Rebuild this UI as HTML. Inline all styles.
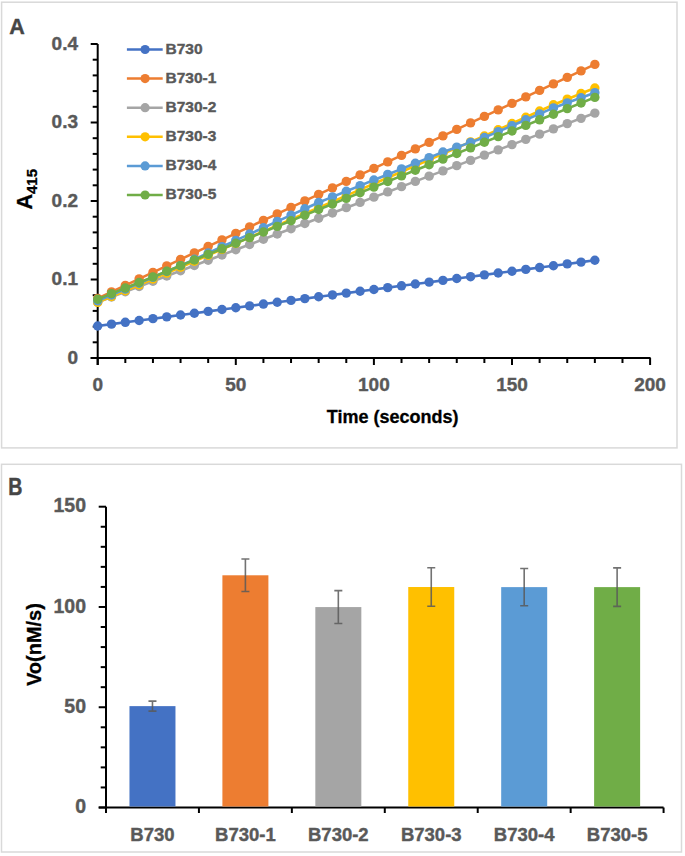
<!DOCTYPE html>
<html><head><meta charset="utf-8"><style>
html,body{margin:0;padding:0;background:#fff;width:685px;height:856px;overflow:hidden;}
svg{display:block;}
</style></head><body>
<svg width="685" height="856" viewBox="0 0 685 856">
<rect width="685" height="856" fill="#fff"/>
<rect x="1.6" y="2.2" width="675.4" height="445.7" fill="#fff" stroke="#d9d9d9" stroke-width="1.5"/>
<rect x="1.5" y="464.3" width="680" height="387.7" fill="#fff" stroke="#d9d9d9" stroke-width="1.5"/>
<text x="9.2" y="33.9" font-family="Liberation Sans, sans-serif" font-weight="bold" font-size="21.5" fill="#454545" stroke="#454545" stroke-width="0.4">A</text>
<text transform="translate(8.2,494.6) scale(0.8,1)" font-family="Liberation Sans, sans-serif" font-weight="bold" font-size="24.5" fill="#454545" stroke="#454545" stroke-width="0.5">B</text>
<line x1="97.7" y1="44.0" x2="97.7" y2="365.0" stroke="#000" stroke-width="2"/>
<line x1="90.7" y1="358.0" x2="650.6" y2="358.0" stroke="#000" stroke-width="2"/>
<line x1="90.7" y1="358.00" x2="97.7" y2="358.00" stroke="#000" stroke-width="2"/>
<line x1="92.7" y1="342.30" x2="97.7" y2="342.30" stroke="#000" stroke-width="2"/>
<line x1="92.7" y1="326.60" x2="97.7" y2="326.60" stroke="#000" stroke-width="2"/>
<line x1="92.7" y1="310.90" x2="97.7" y2="310.90" stroke="#000" stroke-width="2"/>
<line x1="92.7" y1="295.20" x2="97.7" y2="295.20" stroke="#000" stroke-width="2"/>
<line x1="90.7" y1="279.50" x2="97.7" y2="279.50" stroke="#000" stroke-width="2"/>
<line x1="92.7" y1="263.80" x2="97.7" y2="263.80" stroke="#000" stroke-width="2"/>
<line x1="92.7" y1="248.10" x2="97.7" y2="248.10" stroke="#000" stroke-width="2"/>
<line x1="92.7" y1="232.40" x2="97.7" y2="232.40" stroke="#000" stroke-width="2"/>
<line x1="92.7" y1="216.70" x2="97.7" y2="216.70" stroke="#000" stroke-width="2"/>
<line x1="90.7" y1="201.00" x2="97.7" y2="201.00" stroke="#000" stroke-width="2"/>
<line x1="92.7" y1="185.30" x2="97.7" y2="185.30" stroke="#000" stroke-width="2"/>
<line x1="92.7" y1="169.60" x2="97.7" y2="169.60" stroke="#000" stroke-width="2"/>
<line x1="92.7" y1="153.90" x2="97.7" y2="153.90" stroke="#000" stroke-width="2"/>
<line x1="92.7" y1="138.20" x2="97.7" y2="138.20" stroke="#000" stroke-width="2"/>
<line x1="90.7" y1="122.50" x2="97.7" y2="122.50" stroke="#000" stroke-width="2"/>
<line x1="92.7" y1="106.80" x2="97.7" y2="106.80" stroke="#000" stroke-width="2"/>
<line x1="92.7" y1="91.10" x2="97.7" y2="91.10" stroke="#000" stroke-width="2"/>
<line x1="92.7" y1="75.40" x2="97.7" y2="75.40" stroke="#000" stroke-width="2"/>
<line x1="92.7" y1="59.70" x2="97.7" y2="59.70" stroke="#000" stroke-width="2"/>
<line x1="90.7" y1="44.00" x2="97.7" y2="44.00" stroke="#000" stroke-width="2"/>
<line x1="97.70" y1="358.0" x2="97.70" y2="365.0" stroke="#000" stroke-width="2"/>
<line x1="125.32" y1="358.0" x2="125.32" y2="363.0" stroke="#000" stroke-width="2"/>
<line x1="152.94" y1="358.0" x2="152.94" y2="363.0" stroke="#000" stroke-width="2"/>
<line x1="180.56" y1="358.0" x2="180.56" y2="363.0" stroke="#000" stroke-width="2"/>
<line x1="208.18" y1="358.0" x2="208.18" y2="363.0" stroke="#000" stroke-width="2"/>
<line x1="235.80" y1="358.0" x2="235.80" y2="365.0" stroke="#000" stroke-width="2"/>
<line x1="263.42" y1="358.0" x2="263.42" y2="363.0" stroke="#000" stroke-width="2"/>
<line x1="291.04" y1="358.0" x2="291.04" y2="363.0" stroke="#000" stroke-width="2"/>
<line x1="318.66" y1="358.0" x2="318.66" y2="363.0" stroke="#000" stroke-width="2"/>
<line x1="346.28" y1="358.0" x2="346.28" y2="363.0" stroke="#000" stroke-width="2"/>
<line x1="373.90" y1="358.0" x2="373.90" y2="365.0" stroke="#000" stroke-width="2"/>
<line x1="401.52" y1="358.0" x2="401.52" y2="363.0" stroke="#000" stroke-width="2"/>
<line x1="429.14" y1="358.0" x2="429.14" y2="363.0" stroke="#000" stroke-width="2"/>
<line x1="456.76" y1="358.0" x2="456.76" y2="363.0" stroke="#000" stroke-width="2"/>
<line x1="484.38" y1="358.0" x2="484.38" y2="363.0" stroke="#000" stroke-width="2"/>
<line x1="512.00" y1="358.0" x2="512.00" y2="365.0" stroke="#000" stroke-width="2"/>
<line x1="539.62" y1="358.0" x2="539.62" y2="363.0" stroke="#000" stroke-width="2"/>
<line x1="567.24" y1="358.0" x2="567.24" y2="363.0" stroke="#000" stroke-width="2"/>
<line x1="594.86" y1="358.0" x2="594.86" y2="363.0" stroke="#000" stroke-width="2"/>
<line x1="622.48" y1="358.0" x2="622.48" y2="363.0" stroke="#000" stroke-width="2"/>
<line x1="650.10" y1="358.0" x2="650.10" y2="365.0" stroke="#000" stroke-width="2"/>
<text x="78" y="363.90" text-anchor="end" font-family="Liberation Sans, sans-serif" font-weight="bold" font-size="19" fill="#595959" stroke="#595959" stroke-width="0.4">0</text>
<text x="78" y="285.40" text-anchor="end" font-family="Liberation Sans, sans-serif" font-weight="bold" font-size="19" fill="#595959" stroke="#595959" stroke-width="0.4">0.1</text>
<text x="78" y="206.90" text-anchor="end" font-family="Liberation Sans, sans-serif" font-weight="bold" font-size="19" fill="#595959" stroke="#595959" stroke-width="0.4">0.2</text>
<text x="78" y="128.40" text-anchor="end" font-family="Liberation Sans, sans-serif" font-weight="bold" font-size="19" fill="#595959" stroke="#595959" stroke-width="0.4">0.3</text>
<text x="78" y="49.90" text-anchor="end" font-family="Liberation Sans, sans-serif" font-weight="bold" font-size="19" fill="#595959" stroke="#595959" stroke-width="0.4">0.4</text>
<text x="97.70" y="391.3" text-anchor="middle" font-family="Liberation Sans, sans-serif" font-weight="bold" font-size="19" fill="#595959" stroke="#595959" stroke-width="0.4">0</text>
<text x="235.80" y="391.3" text-anchor="middle" font-family="Liberation Sans, sans-serif" font-weight="bold" font-size="19" fill="#595959" stroke="#595959" stroke-width="0.4">50</text>
<text x="373.90" y="391.3" text-anchor="middle" font-family="Liberation Sans, sans-serif" font-weight="bold" font-size="19" fill="#595959" stroke="#595959" stroke-width="0.4">100</text>
<text x="512.00" y="391.3" text-anchor="middle" font-family="Liberation Sans, sans-serif" font-weight="bold" font-size="19" fill="#595959" stroke="#595959" stroke-width="0.4">150</text>
<text x="650.10" y="391.3" text-anchor="middle" font-family="Liberation Sans, sans-serif" font-weight="bold" font-size="19" fill="#595959" stroke="#595959" stroke-width="0.4">200</text>
<text x="392.6" y="423.4" text-anchor="middle" font-family="Liberation Sans, sans-serif" font-weight="bold" font-size="18" fill="#000" stroke="#000" stroke-width="0.3">Time (seconds)</text>
<text transform="translate(31.6,209.5) rotate(-90)" font-family="Liberation Sans, sans-serif" font-weight="bold" font-size="21.5" fill="#000" stroke="#000" stroke-width="0.3">A<tspan font-size="15" dy="5">415</tspan></text>
<polyline points="97.70,325.97 111.51,324.15 125.32,322.32 139.13,320.50 152.94,318.67 166.75,316.85 180.56,315.02 194.37,313.20 208.18,311.37 221.99,309.55 235.80,307.72 249.61,305.90 263.42,304.07 277.23,302.25 291.04,300.42 304.85,298.60 318.66,296.77 332.47,294.94 346.28,293.12 360.09,291.29 373.90,289.47 387.71,287.64 401.52,285.82 415.33,283.99 429.14,282.17 442.95,280.34 456.76,278.52 470.57,276.69 484.38,274.87 498.19,273.04 512.00,271.22 525.81,269.39 539.62,267.57 553.43,265.74 567.24,263.92 581.05,262.09 594.86,260.27" fill="none" stroke="#4472C4" stroke-width="2.6" stroke-linejoin="round"/>
<circle cx="97.70" cy="325.97" r="4.7" fill="#4472C4"/>
<circle cx="111.51" cy="324.15" r="4.7" fill="#4472C4"/>
<circle cx="125.32" cy="322.32" r="4.7" fill="#4472C4"/>
<circle cx="139.13" cy="320.50" r="4.7" fill="#4472C4"/>
<circle cx="152.94" cy="318.67" r="4.7" fill="#4472C4"/>
<circle cx="166.75" cy="316.85" r="4.7" fill="#4472C4"/>
<circle cx="180.56" cy="315.02" r="4.7" fill="#4472C4"/>
<circle cx="194.37" cy="313.20" r="4.7" fill="#4472C4"/>
<circle cx="208.18" cy="311.37" r="4.7" fill="#4472C4"/>
<circle cx="221.99" cy="309.55" r="4.7" fill="#4472C4"/>
<circle cx="235.80" cy="307.72" r="4.7" fill="#4472C4"/>
<circle cx="249.61" cy="305.90" r="4.7" fill="#4472C4"/>
<circle cx="263.42" cy="304.07" r="4.7" fill="#4472C4"/>
<circle cx="277.23" cy="302.25" r="4.7" fill="#4472C4"/>
<circle cx="291.04" cy="300.42" r="4.7" fill="#4472C4"/>
<circle cx="304.85" cy="298.60" r="4.7" fill="#4472C4"/>
<circle cx="318.66" cy="296.77" r="4.7" fill="#4472C4"/>
<circle cx="332.47" cy="294.94" r="4.7" fill="#4472C4"/>
<circle cx="346.28" cy="293.12" r="4.7" fill="#4472C4"/>
<circle cx="360.09" cy="291.29" r="4.7" fill="#4472C4"/>
<circle cx="373.90" cy="289.47" r="4.7" fill="#4472C4"/>
<circle cx="387.71" cy="287.64" r="4.7" fill="#4472C4"/>
<circle cx="401.52" cy="285.82" r="4.7" fill="#4472C4"/>
<circle cx="415.33" cy="283.99" r="4.7" fill="#4472C4"/>
<circle cx="429.14" cy="282.17" r="4.7" fill="#4472C4"/>
<circle cx="442.95" cy="280.34" r="4.7" fill="#4472C4"/>
<circle cx="456.76" cy="278.52" r="4.7" fill="#4472C4"/>
<circle cx="470.57" cy="276.69" r="4.7" fill="#4472C4"/>
<circle cx="484.38" cy="274.87" r="4.7" fill="#4472C4"/>
<circle cx="498.19" cy="273.04" r="4.7" fill="#4472C4"/>
<circle cx="512.00" cy="271.22" r="4.7" fill="#4472C4"/>
<circle cx="525.81" cy="269.39" r="4.7" fill="#4472C4"/>
<circle cx="539.62" cy="267.57" r="4.7" fill="#4472C4"/>
<circle cx="553.43" cy="265.74" r="4.7" fill="#4472C4"/>
<circle cx="567.24" cy="263.92" r="4.7" fill="#4472C4"/>
<circle cx="581.05" cy="262.09" r="4.7" fill="#4472C4"/>
<circle cx="594.86" cy="260.27" r="4.7" fill="#4472C4"/>
<polyline points="97.70,298.34 111.51,291.84 125.32,285.34 139.13,278.85 152.94,272.35 166.75,265.85 180.56,259.35 194.37,252.85 208.18,246.36 221.99,239.86 235.80,233.36 249.61,226.86 263.42,220.36 277.23,213.87 291.04,207.37 304.85,200.87 318.66,194.37 332.47,187.87 346.28,181.38 360.09,174.88 373.90,168.38 387.71,161.88 401.52,155.38 415.33,148.88 429.14,142.39 442.95,135.89 456.76,129.39 470.57,122.89 484.38,116.39 498.19,109.90 512.00,103.40 525.81,96.90 539.62,90.40 553.43,83.90 567.24,77.41 581.05,70.91 594.86,64.41" fill="none" stroke="#ED7D31" stroke-width="2.6" stroke-linejoin="round"/>
<circle cx="97.70" cy="298.34" r="4.7" fill="#ED7D31"/>
<circle cx="111.51" cy="291.84" r="4.7" fill="#ED7D31"/>
<circle cx="125.32" cy="285.34" r="4.7" fill="#ED7D31"/>
<circle cx="139.13" cy="278.85" r="4.7" fill="#ED7D31"/>
<circle cx="152.94" cy="272.35" r="4.7" fill="#ED7D31"/>
<circle cx="166.75" cy="265.85" r="4.7" fill="#ED7D31"/>
<circle cx="180.56" cy="259.35" r="4.7" fill="#ED7D31"/>
<circle cx="194.37" cy="252.85" r="4.7" fill="#ED7D31"/>
<circle cx="208.18" cy="246.36" r="4.7" fill="#ED7D31"/>
<circle cx="221.99" cy="239.86" r="4.7" fill="#ED7D31"/>
<circle cx="235.80" cy="233.36" r="4.7" fill="#ED7D31"/>
<circle cx="249.61" cy="226.86" r="4.7" fill="#ED7D31"/>
<circle cx="263.42" cy="220.36" r="4.7" fill="#ED7D31"/>
<circle cx="277.23" cy="213.87" r="4.7" fill="#ED7D31"/>
<circle cx="291.04" cy="207.37" r="4.7" fill="#ED7D31"/>
<circle cx="304.85" cy="200.87" r="4.7" fill="#ED7D31"/>
<circle cx="318.66" cy="194.37" r="4.7" fill="#ED7D31"/>
<circle cx="332.47" cy="187.87" r="4.7" fill="#ED7D31"/>
<circle cx="346.28" cy="181.38" r="4.7" fill="#ED7D31"/>
<circle cx="360.09" cy="174.88" r="4.7" fill="#ED7D31"/>
<circle cx="373.90" cy="168.38" r="4.7" fill="#ED7D31"/>
<circle cx="387.71" cy="161.88" r="4.7" fill="#ED7D31"/>
<circle cx="401.52" cy="155.38" r="4.7" fill="#ED7D31"/>
<circle cx="415.33" cy="148.88" r="4.7" fill="#ED7D31"/>
<circle cx="429.14" cy="142.39" r="4.7" fill="#ED7D31"/>
<circle cx="442.95" cy="135.89" r="4.7" fill="#ED7D31"/>
<circle cx="456.76" cy="129.39" r="4.7" fill="#ED7D31"/>
<circle cx="470.57" cy="122.89" r="4.7" fill="#ED7D31"/>
<circle cx="484.38" cy="116.39" r="4.7" fill="#ED7D31"/>
<circle cx="498.19" cy="109.90" r="4.7" fill="#ED7D31"/>
<circle cx="512.00" cy="103.40" r="4.7" fill="#ED7D31"/>
<circle cx="525.81" cy="96.90" r="4.7" fill="#ED7D31"/>
<circle cx="539.62" cy="90.40" r="4.7" fill="#ED7D31"/>
<circle cx="553.43" cy="83.90" r="4.7" fill="#ED7D31"/>
<circle cx="567.24" cy="77.41" r="4.7" fill="#ED7D31"/>
<circle cx="581.05" cy="70.91" r="4.7" fill="#ED7D31"/>
<circle cx="594.86" cy="64.41" r="4.7" fill="#ED7D31"/>
<polyline points="97.70,302.26 111.51,297.01 125.32,291.75 139.13,286.50 152.94,281.24 166.75,275.99 180.56,270.73 194.37,265.48 208.18,260.22 221.99,254.97 235.80,249.71 249.61,244.46 263.42,239.20 277.23,233.95 291.04,228.69 304.85,223.44 318.66,218.18 332.47,212.93 346.28,207.67 360.09,202.42 373.90,197.16 387.71,191.91 401.52,186.65 415.33,181.40 429.14,176.14 442.95,170.89 456.76,165.63 470.57,160.38 484.38,155.12 498.19,149.87 512.00,144.61 525.81,139.36 539.62,134.10 553.43,128.85 567.24,123.59 581.05,118.34 594.86,113.08" fill="none" stroke="#A5A5A5" stroke-width="2.6" stroke-linejoin="round"/>
<circle cx="97.70" cy="302.26" r="4.7" fill="#A5A5A5"/>
<circle cx="111.51" cy="297.01" r="4.7" fill="#A5A5A5"/>
<circle cx="125.32" cy="291.75" r="4.7" fill="#A5A5A5"/>
<circle cx="139.13" cy="286.50" r="4.7" fill="#A5A5A5"/>
<circle cx="152.94" cy="281.24" r="4.7" fill="#A5A5A5"/>
<circle cx="166.75" cy="275.99" r="4.7" fill="#A5A5A5"/>
<circle cx="180.56" cy="270.73" r="4.7" fill="#A5A5A5"/>
<circle cx="194.37" cy="265.48" r="4.7" fill="#A5A5A5"/>
<circle cx="208.18" cy="260.22" r="4.7" fill="#A5A5A5"/>
<circle cx="221.99" cy="254.97" r="4.7" fill="#A5A5A5"/>
<circle cx="235.80" cy="249.71" r="4.7" fill="#A5A5A5"/>
<circle cx="249.61" cy="244.46" r="4.7" fill="#A5A5A5"/>
<circle cx="263.42" cy="239.20" r="4.7" fill="#A5A5A5"/>
<circle cx="277.23" cy="233.95" r="4.7" fill="#A5A5A5"/>
<circle cx="291.04" cy="228.69" r="4.7" fill="#A5A5A5"/>
<circle cx="304.85" cy="223.44" r="4.7" fill="#A5A5A5"/>
<circle cx="318.66" cy="218.18" r="4.7" fill="#A5A5A5"/>
<circle cx="332.47" cy="212.93" r="4.7" fill="#A5A5A5"/>
<circle cx="346.28" cy="207.67" r="4.7" fill="#A5A5A5"/>
<circle cx="360.09" cy="202.42" r="4.7" fill="#A5A5A5"/>
<circle cx="373.90" cy="197.16" r="4.7" fill="#A5A5A5"/>
<circle cx="387.71" cy="191.91" r="4.7" fill="#A5A5A5"/>
<circle cx="401.52" cy="186.65" r="4.7" fill="#A5A5A5"/>
<circle cx="415.33" cy="181.40" r="4.7" fill="#A5A5A5"/>
<circle cx="429.14" cy="176.14" r="4.7" fill="#A5A5A5"/>
<circle cx="442.95" cy="170.89" r="4.7" fill="#A5A5A5"/>
<circle cx="456.76" cy="165.63" r="4.7" fill="#A5A5A5"/>
<circle cx="470.57" cy="160.38" r="4.7" fill="#A5A5A5"/>
<circle cx="484.38" cy="155.12" r="4.7" fill="#A5A5A5"/>
<circle cx="498.19" cy="149.87" r="4.7" fill="#A5A5A5"/>
<circle cx="512.00" cy="144.61" r="4.7" fill="#A5A5A5"/>
<circle cx="525.81" cy="139.36" r="4.7" fill="#A5A5A5"/>
<circle cx="539.62" cy="134.10" r="4.7" fill="#A5A5A5"/>
<circle cx="553.43" cy="128.85" r="4.7" fill="#A5A5A5"/>
<circle cx="567.24" cy="123.59" r="4.7" fill="#A5A5A5"/>
<circle cx="581.05" cy="118.34" r="4.7" fill="#A5A5A5"/>
<circle cx="594.86" cy="113.08" r="4.7" fill="#A5A5A5"/>
<polyline points="97.70,302.42 111.51,296.55 125.32,290.68 139.13,284.81 152.94,278.94 166.75,273.07 180.56,267.20 194.37,261.24 208.18,255.28 221.99,249.32 235.80,243.36 249.61,237.39 263.42,231.43 277.23,225.47 291.04,219.51 304.85,213.55 318.66,207.59 332.47,201.62 346.28,195.65 360.09,189.68 373.90,183.71 387.71,177.74 401.52,171.78 415.33,165.81 429.14,159.84 442.95,153.87 456.76,147.90 470.57,141.94 484.38,135.97 498.19,129.73 512.00,123.49 525.81,117.26 539.62,111.02 553.43,104.79 567.24,99.18 581.05,93.57 594.86,87.96" fill="none" stroke="#FFC000" stroke-width="2.6" stroke-linejoin="round"/>
<circle cx="97.70" cy="302.42" r="4.7" fill="#FFC000"/>
<circle cx="111.51" cy="296.55" r="4.7" fill="#FFC000"/>
<circle cx="125.32" cy="290.68" r="4.7" fill="#FFC000"/>
<circle cx="139.13" cy="284.81" r="4.7" fill="#FFC000"/>
<circle cx="152.94" cy="278.94" r="4.7" fill="#FFC000"/>
<circle cx="166.75" cy="273.07" r="4.7" fill="#FFC000"/>
<circle cx="180.56" cy="267.20" r="4.7" fill="#FFC000"/>
<circle cx="194.37" cy="261.24" r="4.7" fill="#FFC000"/>
<circle cx="208.18" cy="255.28" r="4.7" fill="#FFC000"/>
<circle cx="221.99" cy="249.32" r="4.7" fill="#FFC000"/>
<circle cx="235.80" cy="243.36" r="4.7" fill="#FFC000"/>
<circle cx="249.61" cy="237.39" r="4.7" fill="#FFC000"/>
<circle cx="263.42" cy="231.43" r="4.7" fill="#FFC000"/>
<circle cx="277.23" cy="225.47" r="4.7" fill="#FFC000"/>
<circle cx="291.04" cy="219.51" r="4.7" fill="#FFC000"/>
<circle cx="304.85" cy="213.55" r="4.7" fill="#FFC000"/>
<circle cx="318.66" cy="207.59" r="4.7" fill="#FFC000"/>
<circle cx="332.47" cy="201.62" r="4.7" fill="#FFC000"/>
<circle cx="346.28" cy="195.65" r="4.7" fill="#FFC000"/>
<circle cx="360.09" cy="189.68" r="4.7" fill="#FFC000"/>
<circle cx="373.90" cy="183.71" r="4.7" fill="#FFC000"/>
<circle cx="387.71" cy="177.74" r="4.7" fill="#FFC000"/>
<circle cx="401.52" cy="171.78" r="4.7" fill="#FFC000"/>
<circle cx="415.33" cy="165.81" r="4.7" fill="#FFC000"/>
<circle cx="429.14" cy="159.84" r="4.7" fill="#FFC000"/>
<circle cx="442.95" cy="153.87" r="4.7" fill="#FFC000"/>
<circle cx="456.76" cy="147.90" r="4.7" fill="#FFC000"/>
<circle cx="470.57" cy="141.94" r="4.7" fill="#FFC000"/>
<circle cx="484.38" cy="135.97" r="4.7" fill="#FFC000"/>
<circle cx="498.19" cy="129.73" r="4.7" fill="#FFC000"/>
<circle cx="512.00" cy="123.49" r="4.7" fill="#FFC000"/>
<circle cx="525.81" cy="117.26" r="4.7" fill="#FFC000"/>
<circle cx="539.62" cy="111.02" r="4.7" fill="#FFC000"/>
<circle cx="553.43" cy="104.79" r="4.7" fill="#FFC000"/>
<circle cx="567.24" cy="99.18" r="4.7" fill="#FFC000"/>
<circle cx="581.05" cy="93.57" r="4.7" fill="#FFC000"/>
<circle cx="594.86" cy="87.96" r="4.7" fill="#FFC000"/>
<polyline points="97.70,300.85 111.51,294.98 125.32,289.11 139.13,283.24 152.94,277.37 166.75,271.50 180.56,265.63 194.37,259.32 208.18,253.00 221.99,246.69 235.80,240.37 249.61,234.06 263.42,227.74 277.23,221.43 291.04,215.11 304.85,208.80 318.66,202.48 332.47,196.87 346.28,191.27 360.09,185.66 373.90,180.05 387.71,174.44 401.52,168.83 415.33,163.22 429.14,157.62 442.95,152.01 456.76,147.18 470.57,142.36 484.38,137.54 498.19,131.61 512.00,125.69 525.81,119.77 539.62,113.85 553.43,107.93 567.24,102.84 581.05,97.76 594.86,92.67" fill="none" stroke="#5B9BD5" stroke-width="2.6" stroke-linejoin="round"/>
<circle cx="97.70" cy="300.85" r="4.7" fill="#5B9BD5"/>
<circle cx="111.51" cy="294.98" r="4.7" fill="#5B9BD5"/>
<circle cx="125.32" cy="289.11" r="4.7" fill="#5B9BD5"/>
<circle cx="139.13" cy="283.24" r="4.7" fill="#5B9BD5"/>
<circle cx="152.94" cy="277.37" r="4.7" fill="#5B9BD5"/>
<circle cx="166.75" cy="271.50" r="4.7" fill="#5B9BD5"/>
<circle cx="180.56" cy="265.63" r="4.7" fill="#5B9BD5"/>
<circle cx="194.37" cy="259.32" r="4.7" fill="#5B9BD5"/>
<circle cx="208.18" cy="253.00" r="4.7" fill="#5B9BD5"/>
<circle cx="221.99" cy="246.69" r="4.7" fill="#5B9BD5"/>
<circle cx="235.80" cy="240.37" r="4.7" fill="#5B9BD5"/>
<circle cx="249.61" cy="234.06" r="4.7" fill="#5B9BD5"/>
<circle cx="263.42" cy="227.74" r="4.7" fill="#5B9BD5"/>
<circle cx="277.23" cy="221.43" r="4.7" fill="#5B9BD5"/>
<circle cx="291.04" cy="215.11" r="4.7" fill="#5B9BD5"/>
<circle cx="304.85" cy="208.80" r="4.7" fill="#5B9BD5"/>
<circle cx="318.66" cy="202.48" r="4.7" fill="#5B9BD5"/>
<circle cx="332.47" cy="196.87" r="4.7" fill="#5B9BD5"/>
<circle cx="346.28" cy="191.27" r="4.7" fill="#5B9BD5"/>
<circle cx="360.09" cy="185.66" r="4.7" fill="#5B9BD5"/>
<circle cx="373.90" cy="180.05" r="4.7" fill="#5B9BD5"/>
<circle cx="387.71" cy="174.44" r="4.7" fill="#5B9BD5"/>
<circle cx="401.52" cy="168.83" r="4.7" fill="#5B9BD5"/>
<circle cx="415.33" cy="163.22" r="4.7" fill="#5B9BD5"/>
<circle cx="429.14" cy="157.62" r="4.7" fill="#5B9BD5"/>
<circle cx="442.95" cy="152.01" r="4.7" fill="#5B9BD5"/>
<circle cx="456.76" cy="147.18" r="4.7" fill="#5B9BD5"/>
<circle cx="470.57" cy="142.36" r="4.7" fill="#5B9BD5"/>
<circle cx="484.38" cy="137.54" r="4.7" fill="#5B9BD5"/>
<circle cx="498.19" cy="131.61" r="4.7" fill="#5B9BD5"/>
<circle cx="512.00" cy="125.69" r="4.7" fill="#5B9BD5"/>
<circle cx="525.81" cy="119.77" r="4.7" fill="#5B9BD5"/>
<circle cx="539.62" cy="113.85" r="4.7" fill="#5B9BD5"/>
<circle cx="553.43" cy="107.93" r="4.7" fill="#5B9BD5"/>
<circle cx="567.24" cy="102.84" r="4.7" fill="#5B9BD5"/>
<circle cx="581.05" cy="97.76" r="4.7" fill="#5B9BD5"/>
<circle cx="594.86" cy="92.67" r="4.7" fill="#5B9BD5"/>
<polyline points="97.70,299.28 111.51,293.67 125.32,288.07 139.13,282.46 152.94,276.85 166.75,271.24 180.56,265.63 194.37,260.02 208.18,254.41 221.99,248.81 235.80,243.20 249.61,237.59 263.42,231.98 277.23,226.37 291.04,220.76 304.85,215.16 318.66,209.55 332.47,203.94 346.28,198.33 360.09,192.72 373.90,187.11 387.71,181.51 401.52,175.90 415.33,170.29 429.14,164.68 442.95,159.07 456.76,153.46 470.57,147.86 484.38,142.25 498.19,136.64 512.00,131.03 525.81,125.42 539.62,119.81 553.43,114.21 567.24,108.60 581.05,102.99 594.86,97.38" fill="none" stroke="#70AD47" stroke-width="2.6" stroke-linejoin="round"/>
<circle cx="97.70" cy="299.28" r="4.7" fill="#70AD47"/>
<circle cx="111.51" cy="293.67" r="4.7" fill="#70AD47"/>
<circle cx="125.32" cy="288.07" r="4.7" fill="#70AD47"/>
<circle cx="139.13" cy="282.46" r="4.7" fill="#70AD47"/>
<circle cx="152.94" cy="276.85" r="4.7" fill="#70AD47"/>
<circle cx="166.75" cy="271.24" r="4.7" fill="#70AD47"/>
<circle cx="180.56" cy="265.63" r="4.7" fill="#70AD47"/>
<circle cx="194.37" cy="260.02" r="4.7" fill="#70AD47"/>
<circle cx="208.18" cy="254.41" r="4.7" fill="#70AD47"/>
<circle cx="221.99" cy="248.81" r="4.7" fill="#70AD47"/>
<circle cx="235.80" cy="243.20" r="4.7" fill="#70AD47"/>
<circle cx="249.61" cy="237.59" r="4.7" fill="#70AD47"/>
<circle cx="263.42" cy="231.98" r="4.7" fill="#70AD47"/>
<circle cx="277.23" cy="226.37" r="4.7" fill="#70AD47"/>
<circle cx="291.04" cy="220.76" r="4.7" fill="#70AD47"/>
<circle cx="304.85" cy="215.16" r="4.7" fill="#70AD47"/>
<circle cx="318.66" cy="209.55" r="4.7" fill="#70AD47"/>
<circle cx="332.47" cy="203.94" r="4.7" fill="#70AD47"/>
<circle cx="346.28" cy="198.33" r="4.7" fill="#70AD47"/>
<circle cx="360.09" cy="192.72" r="4.7" fill="#70AD47"/>
<circle cx="373.90" cy="187.11" r="4.7" fill="#70AD47"/>
<circle cx="387.71" cy="181.51" r="4.7" fill="#70AD47"/>
<circle cx="401.52" cy="175.90" r="4.7" fill="#70AD47"/>
<circle cx="415.33" cy="170.29" r="4.7" fill="#70AD47"/>
<circle cx="429.14" cy="164.68" r="4.7" fill="#70AD47"/>
<circle cx="442.95" cy="159.07" r="4.7" fill="#70AD47"/>
<circle cx="456.76" cy="153.46" r="4.7" fill="#70AD47"/>
<circle cx="470.57" cy="147.86" r="4.7" fill="#70AD47"/>
<circle cx="484.38" cy="142.25" r="4.7" fill="#70AD47"/>
<circle cx="498.19" cy="136.64" r="4.7" fill="#70AD47"/>
<circle cx="512.00" cy="131.03" r="4.7" fill="#70AD47"/>
<circle cx="525.81" cy="125.42" r="4.7" fill="#70AD47"/>
<circle cx="539.62" cy="119.81" r="4.7" fill="#70AD47"/>
<circle cx="553.43" cy="114.21" r="4.7" fill="#70AD47"/>
<circle cx="567.24" cy="108.60" r="4.7" fill="#70AD47"/>
<circle cx="581.05" cy="102.99" r="4.7" fill="#70AD47"/>
<circle cx="594.86" cy="97.38" r="4.7" fill="#70AD47"/>
<line x1="126.9" y1="49.50" x2="162.7" y2="49.50" stroke="#4472C4" stroke-width="2.5"/>
<circle cx="145.1" cy="49.50" r="4.6" fill="#4472C4"/>
<text x="165.5" y="53.70" font-family="Liberation Sans, sans-serif" font-weight="bold" font-size="15.5" fill="#595959" stroke="#595959" stroke-width="0.4">B730</text>
<line x1="126.9" y1="78.60" x2="162.7" y2="78.60" stroke="#ED7D31" stroke-width="2.5"/>
<circle cx="145.1" cy="78.60" r="4.6" fill="#ED7D31"/>
<text x="165.5" y="82.80" font-family="Liberation Sans, sans-serif" font-weight="bold" font-size="15.5" fill="#595959" stroke="#595959" stroke-width="0.4">B730-1</text>
<line x1="126.9" y1="107.70" x2="162.7" y2="107.70" stroke="#A5A5A5" stroke-width="2.5"/>
<circle cx="145.1" cy="107.70" r="4.6" fill="#A5A5A5"/>
<text x="165.5" y="111.90" font-family="Liberation Sans, sans-serif" font-weight="bold" font-size="15.5" fill="#595959" stroke="#595959" stroke-width="0.4">B730-2</text>
<line x1="126.9" y1="136.80" x2="162.7" y2="136.80" stroke="#FFC000" stroke-width="2.5"/>
<circle cx="145.1" cy="136.80" r="4.6" fill="#FFC000"/>
<text x="165.5" y="141.00" font-family="Liberation Sans, sans-serif" font-weight="bold" font-size="15.5" fill="#595959" stroke="#595959" stroke-width="0.4">B730-3</text>
<line x1="126.9" y1="165.90" x2="162.7" y2="165.90" stroke="#5B9BD5" stroke-width="2.5"/>
<circle cx="145.1" cy="165.90" r="4.6" fill="#5B9BD5"/>
<text x="165.5" y="170.10" font-family="Liberation Sans, sans-serif" font-weight="bold" font-size="15.5" fill="#595959" stroke="#595959" stroke-width="0.4">B730-4</text>
<line x1="126.9" y1="195.00" x2="162.7" y2="195.00" stroke="#70AD47" stroke-width="2.5"/>
<circle cx="145.1" cy="195.00" r="4.6" fill="#70AD47"/>
<text x="165.5" y="199.20" font-family="Liberation Sans, sans-serif" font-weight="bold" font-size="15.5" fill="#595959" stroke="#595959" stroke-width="0.4">B730-5</text>
<line x1="106.0" y1="506.705" x2="106.0" y2="813.0" stroke="#000" stroke-width="2"/>
<line x1="98.7" y1="807.5" x2="663.58" y2="807.5" stroke="#000" stroke-width="2"/>
<line x1="98.7" y1="807.50" x2="106.0" y2="807.50" stroke="#000" stroke-width="2"/>
<line x1="100.7" y1="787.45" x2="106.0" y2="787.45" stroke="#000" stroke-width="2"/>
<line x1="100.7" y1="767.39" x2="106.0" y2="767.39" stroke="#000" stroke-width="2"/>
<line x1="100.7" y1="747.34" x2="106.0" y2="747.34" stroke="#000" stroke-width="2"/>
<line x1="100.7" y1="727.29" x2="106.0" y2="727.29" stroke="#000" stroke-width="2"/>
<line x1="98.7" y1="707.24" x2="106.0" y2="707.24" stroke="#000" stroke-width="2"/>
<line x1="100.7" y1="687.18" x2="106.0" y2="687.18" stroke="#000" stroke-width="2"/>
<line x1="100.7" y1="667.13" x2="106.0" y2="667.13" stroke="#000" stroke-width="2"/>
<line x1="100.7" y1="647.08" x2="106.0" y2="647.08" stroke="#000" stroke-width="2"/>
<line x1="100.7" y1="627.02" x2="106.0" y2="627.02" stroke="#000" stroke-width="2"/>
<line x1="98.7" y1="606.97" x2="106.0" y2="606.97" stroke="#000" stroke-width="2"/>
<line x1="100.7" y1="586.92" x2="106.0" y2="586.92" stroke="#000" stroke-width="2"/>
<line x1="100.7" y1="566.86" x2="106.0" y2="566.86" stroke="#000" stroke-width="2"/>
<line x1="100.7" y1="546.81" x2="106.0" y2="546.81" stroke="#000" stroke-width="2"/>
<line x1="100.7" y1="526.76" x2="106.0" y2="526.76" stroke="#000" stroke-width="2"/>
<line x1="98.7" y1="506.70" x2="106.0" y2="506.70" stroke="#000" stroke-width="2"/>
<line x1="106.00" y1="807.5" x2="106.00" y2="813.0" stroke="#000" stroke-width="2"/>
<line x1="198.93" y1="807.5" x2="198.93" y2="813.0" stroke="#000" stroke-width="2"/>
<line x1="291.86" y1="807.5" x2="291.86" y2="813.0" stroke="#000" stroke-width="2"/>
<line x1="384.79" y1="807.5" x2="384.79" y2="813.0" stroke="#000" stroke-width="2"/>
<line x1="477.72" y1="807.5" x2="477.72" y2="813.0" stroke="#000" stroke-width="2"/>
<line x1="570.65" y1="807.5" x2="570.65" y2="813.0" stroke="#000" stroke-width="2"/>
<line x1="663.58" y1="807.5" x2="663.58" y2="813.0" stroke="#000" stroke-width="2"/>
<text x="86" y="813.20" text-anchor="end" font-family="Liberation Sans, sans-serif" font-weight="bold" font-size="19.5" fill="#595959" stroke="#595959" stroke-width="0.4">0</text>
<text x="86" y="712.93" text-anchor="end" font-family="Liberation Sans, sans-serif" font-weight="bold" font-size="19.5" fill="#595959" stroke="#595959" stroke-width="0.4">50</text>
<text x="86" y="612.67" text-anchor="end" font-family="Liberation Sans, sans-serif" font-weight="bold" font-size="19.5" fill="#595959" stroke="#595959" stroke-width="0.4">100</text>
<text x="86" y="512.40" text-anchor="end" font-family="Liberation Sans, sans-serif" font-weight="bold" font-size="19.5" fill="#595959" stroke="#595959" stroke-width="0.4">150</text>
<rect x="129.47" y="706.13" width="46.0" height="100.37" fill="#4472C4"/>
<path d="M152.47,701.12V711.15M148.47,701.12H156.47M148.47,711.15H156.47" stroke="#595959" stroke-opacity="0.85" stroke-width="1.6" fill="none"/>
<text x="152.47" y="841" text-anchor="middle" font-family="Liberation Sans, sans-serif" font-weight="bold" font-size="18.5" fill="#595959" stroke="#595959" stroke-width="0.4">B730</text>
<rect x="222.40" y="575.29" width="46.0" height="231.21" fill="#ED7D31"/>
<path d="M245.40,559.04V591.53M241.40,559.04H249.40M241.40,591.53H249.40" stroke="#595959" stroke-opacity="0.85" stroke-width="1.6" fill="none"/>
<text x="245.40" y="841" text-anchor="middle" font-family="Liberation Sans, sans-serif" font-weight="bold" font-size="18.5" fill="#595959" stroke="#595959" stroke-width="0.4">B730-1</text>
<rect x="315.33" y="607.07" width="46.0" height="199.43" fill="#A5A5A5"/>
<path d="M338.33,590.63V623.51M334.33,590.63H342.33M334.33,623.51H342.33" stroke="#595959" stroke-opacity="0.85" stroke-width="1.6" fill="none"/>
<text x="338.33" y="841" text-anchor="middle" font-family="Liberation Sans, sans-serif" font-weight="bold" font-size="18.5" fill="#595959" stroke="#595959" stroke-width="0.4">B730-2</text>
<rect x="408.25" y="587.02" width="46.0" height="219.48" fill="#FFC000"/>
<path d="M431.25,567.77V606.27M427.25,567.77H435.25M427.25,606.27H435.25" stroke="#595959" stroke-opacity="0.85" stroke-width="1.6" fill="none"/>
<text x="431.25" y="841" text-anchor="middle" font-family="Liberation Sans, sans-serif" font-weight="bold" font-size="18.5" fill="#595959" stroke="#595959" stroke-width="0.4">B730-3</text>
<rect x="501.19" y="587.12" width="46.0" height="219.38" fill="#5B9BD5"/>
<path d="M524.19,568.47V605.77M520.19,568.47H528.19M520.19,605.77H528.19" stroke="#595959" stroke-opacity="0.85" stroke-width="1.6" fill="none"/>
<text x="524.19" y="841" text-anchor="middle" font-family="Liberation Sans, sans-serif" font-weight="bold" font-size="18.5" fill="#595959" stroke="#595959" stroke-width="0.4">B730-4</text>
<rect x="594.12" y="587.12" width="46.0" height="219.38" fill="#70AD47"/>
<path d="M617.12,567.87V606.37M613.12,567.87H621.12M613.12,606.37H621.12" stroke="#595959" stroke-opacity="0.85" stroke-width="1.6" fill="none"/>
<text x="617.12" y="841" text-anchor="middle" font-family="Liberation Sans, sans-serif" font-weight="bold" font-size="18.5" fill="#595959" stroke="#595959" stroke-width="0.4">B730-5</text>
<text transform="translate(40.5,644.6) rotate(-90)" text-anchor="middle" font-family="Liberation Sans, sans-serif" font-weight="bold" font-size="20" fill="#000" stroke="#000" stroke-width="0.3">Vo(nM/s)</text>
</svg>
</body></html>
